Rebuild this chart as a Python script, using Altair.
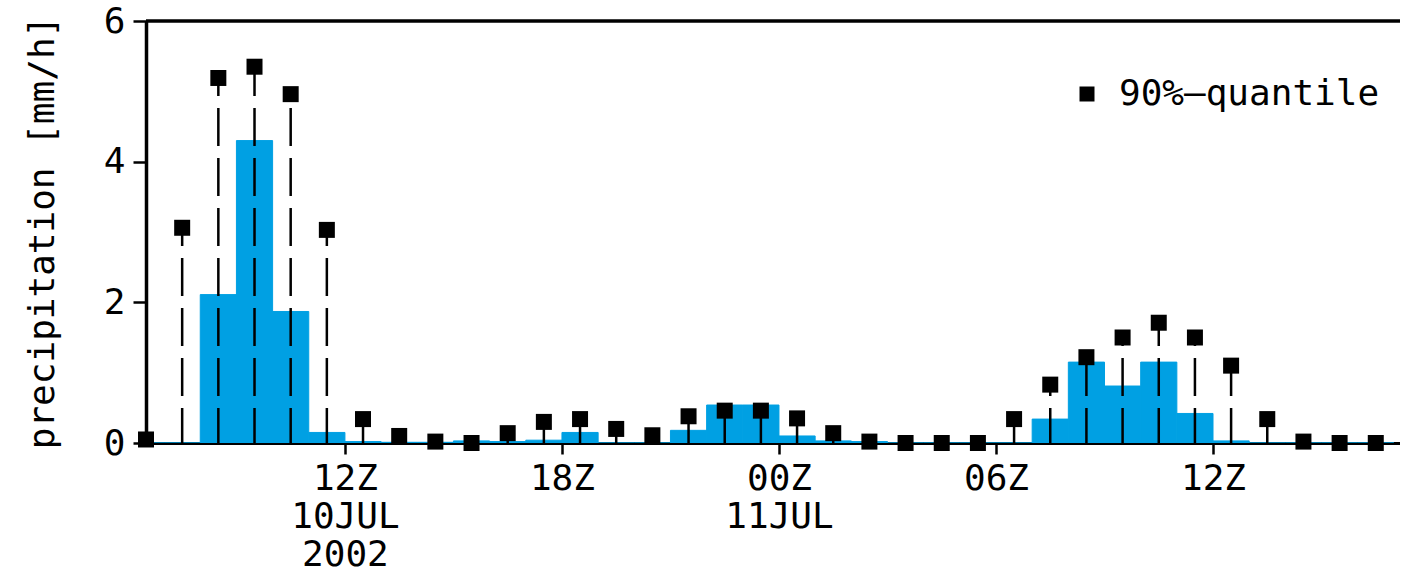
import altair as alt
import pandas as pd

# Hourly bins, hour index 0 = 06Z 10 JUL 2002
hour_start = list(range(35))

# ensemble mean precipitation per hour [mm/h] (blue bars)
mean_precip = [0.0, 0.0, 2.11, 4.30, 1.87, 0.15, 0.02, 0.01, 0.01, 0.03,
               0.02, 0.04, 0.15, 0.0, 0.0, 0.18, 0.54, 0.54, 0.10, 0.03,
               0.02, 0.0, 0.0, 0.0, 0.0, 0.34, 1.15, 0.81, 1.15, 0.42,
               0.03, 0.0, 0.0, 0.0, 0.0]

# 90% quantile per hour [mm/h] (squares on dashed stems)
q90_precip = [0.05, 3.06, 5.19, 5.35, 4.96, 3.03, 0.34, 0.10, 0.02, 0.0,
              0.14, 0.30, 0.34, 0.20, 0.11, 0.38, 0.46, 0.46, 0.35, 0.14,
              0.02, 0.0, 0.0, 0.0, 0.34, 0.83, 1.22, 1.50, 1.71, 1.50,
              1.10, 0.34, 0.02, 0.0, 0.0]

series_name = "90%\u2013quantile"

# x-axis ticks (hours since 06Z 10 JUL) and their label lines
tick_hours = [6, 12, 18, 24, 30]
tick_labels = [["12Z", "10JUL", "2002"], ["18Z"], ["00Z", "11JUL"], ["06Z"], ["12Z"]]

y_ticks = [0, 2, 4, 6]

FONT = "DejaVu Sans Mono"
BLUE = "#00A0E3"

df = pd.DataFrame({
    "hour": hour_start,
    "mean": mean_precip,
    "q90": q90_precip,
})
df["hour_end"] = df["hour"] + 1
df["mid"] = df["hour"] + 0.5
df["base"] = 0.0
df["series"] = series_name

# build the multi-line label expression from the tick lists
label_expr = "''"
for h, lines in reversed(list(zip(tick_hours, tick_labels))):
    arr = "[" + ",".join("'" + s + "'" for s in lines) + "]"
    label_expr = f"datum.value == {h} ? {arr} : ({label_expr})"

PLOT_W = 1254
PLOT_H = 422

x_scale = alt.Scale(domain=[0.5, 0.5 + PLOT_W / 36.17], nice=False, zero=False)
y_scale = alt.Scale(domain=[0, 6], nice=False)

x_axis = alt.Axis(
    values=tick_hours, labelExpr=label_expr, title=None, grid=False,
    tickSize=11, tickWidth=2.5, tickColor="black",
    domainColor="black", domainWidth=3,
    labelFont=FONT, labelFontSize=36, labelColor="black",
    labelLineHeight=38, labelPadding=7, labelBaseline="top",
    labelAlign="center", labelFlush=False, labelOverlap=False,
)
y_axis = alt.Axis(
    values=y_ticks, grid=False,
    tickSize=13, tickWidth=2.5, tickColor="black",
    domainColor="black", domainWidth=3.5,
    labelFont=FONT, labelFontSize=36, labelColor="black", labelPadding=8,
    title="precipitation [mm/h]", titleFont=FONT, titleFontSize=36,
    titleFontWeight="normal", titleColor="black",
    titleAngle=270, titleAlign="center", titleBaseline="middle",
    titleX=-104, titleY=PLOT_H / 2,
)

base = alt.Chart(df)

bars = base.mark_bar(color=BLUE, stroke=BLUE, strokeWidth=1, clip=True).encode(
    x=alt.X("hour:Q", scale=x_scale, axis=x_axis),
    x2="hour_end:Q",
    y=alt.Y("mean:Q", scale=y_scale, axis=y_axis),
    y2="base:Q",
)

stems = base.mark_rule(
    color="black", strokeWidth=2.5, strokeDash=[38, 12], strokeDashOffset=3
).encode(
    x=alt.X("mid:Q", scale=x_scale, axis=x_axis),
    y=alt.Y("base:Q", scale=y_scale, axis=y_axis),
    y2="q90:Q",
)

squares = base.mark_point(
    shape="square", filled=True, size=256, opacity=1
).encode(
    x=alt.X("mid:Q", scale=x_scale, axis=x_axis),
    y=alt.Y("q90:Q", scale=y_scale, axis=y_axis),
    color=alt.Color(
        "series:N",
        scale=alt.Scale(range=["black"]),
        legend=alt.Legend(
            title=None, orient="none", legendX=923, legendY=55,
            symbolType="square", symbolSize=225, symbolFillColor="black",
            symbolStrokeWidth=0, labelFont=FONT, labelFontSize=36,
            labelColor="black", labelOffset=14, labelLimit=0, padding=0,
        ),
    ),
)

frame_top = alt.Chart(pd.DataFrame({"top": [6]})).mark_rule(
    color="black", strokeWidth=3.5
).encode(y=alt.Y("top:Q", scale=y_scale, axis=y_axis))

chart = (
    alt.layer(bars, stems, squares, frame_top)
    .properties(
        width=PLOT_W, height=PLOT_H,
        autosize=alt.AutoSizeParams(type="none"),
        padding={"left": 146, "top": 21, "right": 0, "bottom": 131},
        background="white",
    )
    .configure_view(stroke=None)
)

chart.save("out.html", embed_options={"renderer": "svg", "actions": False})
